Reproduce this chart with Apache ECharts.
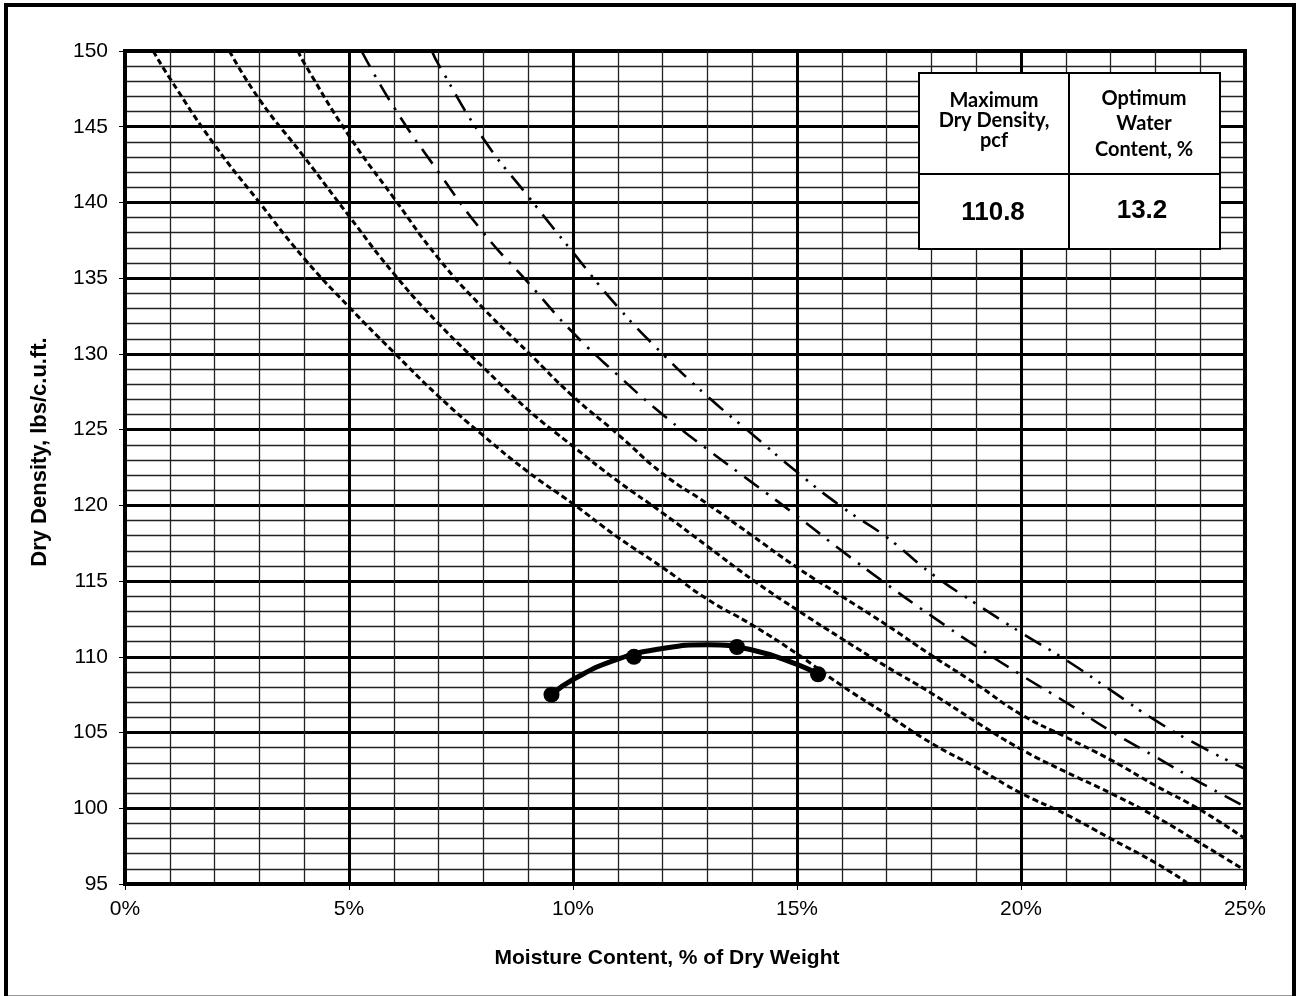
<!DOCTYPE html>
<html>
<head>
<meta charset="utf-8">
<title>Moisture-Density Relationship</title>
<script src="https://cdn.jsdelivr.net/npm/echarts@6/dist/echarts.min.js"></script>
<style>
html, body { margin: 0; padding: 0; background: #fff; }
#chart { width: 1300px; height: 996px; }
</style>
</head>
<body>
<div id="chart"></div>
<script>
// compaction test points (moisture %, dry density pcf)
var testMoisture = [9.52, 11.36, 13.66, 15.47];
var testDensity = [107.5, 110.0, 110.65, 108.85];

// curve drawn through the test points
var fitMoisture = [9.52, 10, 11, 12, 13, 14, 15, 15.47];
var fitDensity = [107.5, 108.5, 109.85, 110.55, 110.8, 110.45, 109.5, 108.85];

// saturation lines, lowest to highest
var zav1Moisture = [0.63, 1, 2, 3, 4, 5, 6, 7, 8, 9, 10, 11, 12, 13, 14, 15, 16, 17, 18, 19, 20, 21, 22, 23, 23.7];
var zav1Density = [150, 148.2, 143.8, 140.0, 136.3, 133.1, 130.1, 127.2, 124.6, 122.2, 120.1, 117.9, 115.9, 113.8, 112.1, 110.2, 108.1, 106.2, 104.3, 102.7, 101.0, 99.6, 98.0, 96.4, 95.1];

var zav2Moisture = [2.33, 3, 4, 5, 6, 7, 8, 9, 10, 11, 12, 13, 14, 15, 16, 17, 18, 19, 20, 21, 22, 23, 24, 25];
var zav2Density = [150, 146.8, 143.0, 139.1, 135.3, 132.0, 129.1, 126.3, 123.9, 121.6, 119.5, 117.3, 115.1, 113.1, 111.2, 109.35, 107.6, 105.7, 103.9, 102.4, 101.0, 99.45, 97.7, 95.9];

var zav3Moisture = [3.86, 4, 5, 6, 7, 8, 9, 10, 11, 12, 13, 14, 15, 16, 17, 18, 19, 20, 21, 22, 23, 24, 25];
var zav3Density = [150, 149.2, 144.4, 140.3, 136.3, 133.0, 130.1, 127.2, 124.7, 122.1, 120.1, 118.0, 115.9, 114.0, 112.1, 110.1, 108.2, 106.2, 104.7, 103.2, 101.5, 99.9, 98.0];

var zav4Moisture = [5.28, 6, 7, 8, 9, 10, 11, 12, 13, 14, 15, 16, 17, 18, 19, 20, 21, 22, 23, 24, 25];
var zav4Density = [150, 146.3, 142.0, 138.0, 134.7, 131.4, 128.6, 126.0, 123.7, 121.5, 119.3, 117.0, 114.8, 112.7, 110.7, 108.8, 107.0, 105.1, 103.4, 101.7, 100.1];

var zav5Moisture = [6.85, 7, 8, 9, 10, 11, 12, 13, 14, 15, 16, 17, 18, 19, 20, 21, 22, 23, 24, 25];
var zav5Density = [150, 149.1, 144.2, 140.4, 136.7, 133.1, 130.0, 127.2, 124.7, 122.2, 119.9, 117.9, 115.5, 113.5, 111.6, 109.8, 107.8, 105.8, 104.1, 102.6];

// result box
var maxDryDensity = '110.8';
var optimumWater = '13.2';

function pairs(xs, ys) {
  return xs.map(function (x, i) { return [x, ys[i]]; });
}

function curve(xs, ys, style) {
  return {
    type: 'line',
    data: pairs(xs, ys),
    showSymbol: false,
    smooth: true,
    silent: true,
    lineStyle: style,
    z: 3
  };
}

var shortDash = { color: '#000', width: 3, type: [6, 3.5] };
var dashDot = { color: '#000', width: 2.6, type: [18, 9, 2.5, 9] };
var dashDotDot = { color: '#000', width: 2.6, type: [19, 9, 2.5, 7.5, 2.5, 9] };

var labelFont = { color: '#000', fontSize: 21, fontFamily: 'Liberation Sans, Arial, sans-serif' };
var headFont = 'bold 20px Lato, sans-serif';
var valueFont = 'bold 26px "Liberation Sans", Arial, sans-serif';

function txt(s, x, y, font, rot) {
  return {
    type: 'text', x: x, y: y, rotation: rot || 0, z: 20,
    style: { text: s, font: font, fill: '#000', textAlign: 'center', textVerticalAlign: 'middle' }
  };
}

var chart = echarts.init(document.getElementById('chart'));

var option = {
  animation: false,
  backgroundColor: '#fff',
  grid: {
    left: 125, right: 55, top: 51, bottom: 112,
    show: true, borderColor: '#000', borderWidth: 4, backgroundColor: 'transparent'
  },
  xAxis: {
    type: 'value', min: 0, max: 25, interval: 5,
    axisLine: { lineStyle: { color: '#000', width: 4 } },
    axisTick: { show: true, length: 6, lineStyle: { color: '#000', width: 1 } },
    axisLabel: Object.assign({ formatter: '{value}%', margin: 15 }, labelFont),
    splitLine: { lineStyle: { color: '#000', width: 3 } },
    minorTick: { show: false, splitNumber: 5 },
    minorSplitLine: { show: true, lineStyle: { color: '#222', width: 1.3 } }
  },
  yAxis: {
    type: 'value', min: 95, max: 150, interval: 5,
    axisLine: { show: true, lineStyle: { color: '#000', width: 4 } },
    axisTick: { show: true, length: 6, lineStyle: { color: '#000', width: 1 } },
    axisLabel: Object.assign({ margin: 17 }, labelFont),
    splitLine: { lineStyle: { color: '#000', width: 3 } },
    minorTick: { show: false, splitNumber: 5 },
    minorSplitLine: { show: true, lineStyle: { color: '#222', width: 1.3 } }
  },
  series: [
    curve(zav1Moisture, zav1Density, shortDash),
    curve(zav2Moisture, zav2Density, shortDash),
    curve(zav3Moisture, zav3Density, shortDash),
    curve(zav4Moisture, zav4Density, dashDot),
    curve(zav5Moisture, zav5Density, dashDotDot),
    {
      type: 'line',
      data: pairs(fitMoisture, fitDensity),
      showSymbol: false,
      smooth: true,
      silent: true,
      lineStyle: { color: '#000', width: 5 },
      z: 4
    },
    {
      type: 'scatter',
      data: pairs(testMoisture, testDensity),
      symbol: 'circle',
      symbolSize: 16,
      itemStyle: { color: '#000', opacity: 1 },
      silent: true,
      z: 5
    }
  ],
  graphic: [
    // outer frame
    { type: 'rect', z: 30, shape: { x: 6, y: 5, width: 1288, height: 1005 },
      style: { fill: 'none', stroke: '#000', lineWidth: 4 } },
    { type: 'line', z: 30, shape: { x1: 8, y1: 995.5, x2: 1292, y2: 995.5 },
      style: { stroke: '#999', lineWidth: 1 } },
    // axis titles
    txt('Moisture Content, % of Dry Weight', 667, 958, 'bold 21px "Liberation Sans", Arial, sans-serif'),
    txt('Dry Density, lbs/c.u.ft.', 40, 452, 'bold 22px "Liberation Sans", Arial, sans-serif', Math.PI / 2),
    // result table
    { type: 'rect', z: 15, shape: { x: 919, y: 73, width: 301, height: 176 },
      style: { fill: '#fff', stroke: '#000', lineWidth: 2 } },
    { type: 'line', z: 16, shape: { x1: 1069, y1: 73, x2: 1069, y2: 249 },
      style: { stroke: '#000', lineWidth: 2 } },
    { type: 'line', z: 16, shape: { x1: 919, y1: 174, x2: 1220, y2: 174 },
      style: { stroke: '#000', lineWidth: 2 } },
    txt('Maximum', 994, 101, headFont),
    txt('Dry Density,', 994, 121, headFont),
    txt('pcf', 994, 141, headFont),
    txt('Optimum', 1144, 99, headFont),
    txt('Water', 1144, 124, headFont),
    txt('Content, %', 1144, 150, headFont),
    txt(maxDryDensity, 993, 213, valueFont),
    txt(optimumWater, 1142, 211, valueFont)
  ]
};

chart.setOption(option);
</script>
</body>
</html>
